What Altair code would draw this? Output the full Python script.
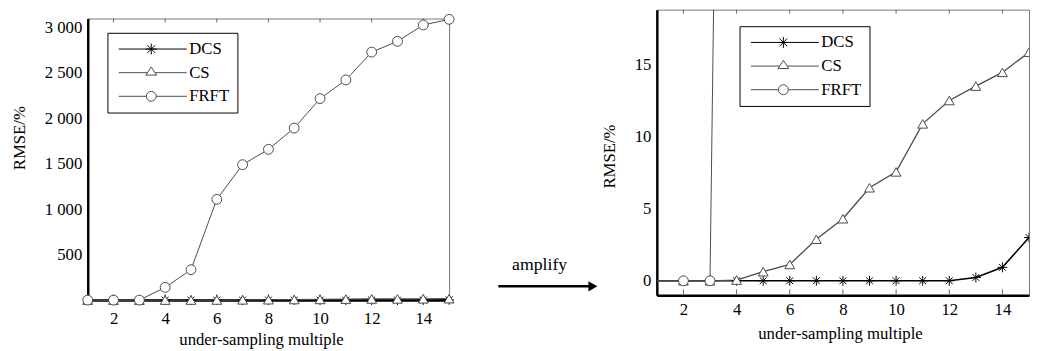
import altair as alt
import pandas as pd

# ---------------- data ----------------
x_vals = list(range(1, 16))
series_names = ["DCS", "CS", "FRFT"]
dcs_vals = [0, 0, 0, 0, 0, 0, 0, 0, 0, 0, 0, 0, 0.23, 0.93, 3.0]
cs_vals = [0, 0, 0, 0.05, 0.63, 1.13, 2.88, 4.3, 6.45, 7.55, 10.88, 12.5, 13.5, 14.45, 15.85]
frft_vals = [0, 0, 0, 140, 335, 1109, 1491, 1660, 1894, 2218, 2424, 2730, 2849, 3029, 3091]
x_ticks = [2, 4, 6, 8, 10, 12, 14]
left_y_ticks = [500, 1000, 1500, 2000, 2500, 3000]
right_y_ticks = [0, 5, 10, 15]
x_title = "under-sampling multiple"
y_title = "RMSE/%"
arrow_label = "amplify"

# ---------------- styles ----------------
FONT = "Liberation Serif"
series_colors = ["#000000", "#4a4a4a", "#4a4a4a"]
series_widths = [1.6, 1.0, 1.0]
ASTER = "M0,-1L0,1M-1,0L1,0M-0.7,-0.7L0.7,0.7M-0.7,0.7L0.7,-0.7"
marker_shapes = [ASTER, "triangle-up", "circle"]
legend_paths = [
    "M-1,0L12.8,0M5.6,-1.1L5.6,1.1M4.5,0L6.7,0M4.82,-0.78L6.38,0.78M4.82,0.78L6.38,-0.78",
    "M-1,0L4.83,0M6.37,0L12.8,0M5.6,-1.15L6.7,0.5L4.5,0.5Z",
    "M-1,0L4.6,0M6.6,0L12.8,0M6.6,0A1,1 0 1,1 4.6,0A1,1 0 1,1 6.6,0",
]

rows = []
for name, vals in zip(series_names, [dcs_vals, cs_vals, frft_vals]):
    for xv, yv in zip(x_vals, vals):
        rows.append({"x": xv, "value": yv, "series": name})
df = pd.DataFrame(rows)
xtick_df = pd.DataFrame({"x": x_ticks})


def panel(ydomain, yticks, width, height, clip, legx, legy, label_expr,
          xlabpad, xtitle_x, xtitle_y, ytitle_x, ytitle_y, min_marker_x):
    yaxis_kw = dict(
        values=yticks, title=y_title, grid=False, ticks=False, labelPadding=6,
        domainColor="black", domainWidth=2.5, labelFont=FONT, labelFontSize=17,
        labelColor="black", titleFont=FONT, titleFontSize=17, titleFontWeight="normal",
        titleColor="black", titleAngle=270, titleX=ytitle_x, titleY=ytitle_y,
        titleBaseline="middle", titleAlign="center", labelFlush=False, labelOverlap=False,
    )
    if label_expr:
        yaxis_kw["labelExpr"] = label_expr
    xenc = alt.X(
        "x:Q",
        scale=alt.Scale(domain=[1, 15], nice=False, zero=False),
        axis=alt.Axis(
            values=x_ticks, title=x_title, grid=False, ticks=False, labelPadding=xlabpad,
            domainColor="black", domainWidth=2.5, labelFont=FONT, labelFontSize=17,
            labelColor="black", titleFont=FONT, titleFontSize=17, titleFontWeight="normal",
            titleColor="black", titleX=xtitle_x, titleY=xtitle_y, titleBaseline="top",
            titleAlign="center", labelFlush=False, labelOverlap=False,
        ),
    )
    yenc = alt.Y(
        "value:Q",
        scale=alt.Scale(domain=ydomain, nice=False, zero=False),
        axis=alt.Axis(**yaxis_kw),
    )
    color_scale = alt.Scale(domain=series_names, range=series_colors)
    base = alt.Chart(df)
    # inward tick marks (top and bottom edges)
    top_ticks = alt.Chart(xtick_df).mark_rule(color="#666666", strokeWidth=1).encode(
        x=xenc, y=alt.value(0), y2=alt.value(4)
    )
    bottom_ticks = alt.Chart(xtick_df).mark_rule(color="#666666", strokeWidth=1).encode(
        x=xenc, y=alt.value(height - 1), y2=alt.value(height - 6)
    )
    lines = base.mark_line(clip=clip).encode(
        x=xenc, y=yenc,
        color=alt.Color("series:N", scale=color_scale, legend=None),
        strokeWidth=alt.StrokeWidth("series:N", scale=alt.Scale(domain=series_names, range=series_widths), legend=None),
        detail="series:N",
    )
    points = base.transform_filter(f"datum.x >= {min_marker_x}").mark_point(
        clip=clip, filled=False, size=100, strokeWidth=1, opacity=1
    ).encode(
        x=xenc, y=yenc,
        color=alt.Color("series:N", scale=color_scale, legend=None),
        shape=alt.Shape("series:N", scale=alt.Scale(domain=series_names, range=marker_shapes), legend=None),
        fill=alt.value("white"),
    )
    leg = alt.Legend(
        title=None, orient="none", legendX=legx, legendY=legy, symbolSize=100,
        symbolStrokeWidth=1, labelFont=FONT, labelFontSize=17, labelColor="black",
        labelOffset=58, padding=8, strokeColor="black", fillColor="white", rowPadding=6,
    )
    legend_layer = base.transform_filter("false").mark_point(filled=False, size=100, opacity=1).encode(
        x=xenc, y=yenc,
        color=alt.Color("series:N", scale=color_scale, legend=leg),
        shape=alt.Shape("series:N", scale=alt.Scale(domain=series_names, range=legend_paths), legend=leg),
    )
    return alt.layer(top_ticks, bottom_ticks, lines, points, legend_layer).resolve_scale(
        shape="independent", color="independent", strokeWidth="independent"
    ).properties(width=width, height=height, view=alt.ViewBackground(stroke="#777777", strokeWidth=1))


left = panel([0, 3100], left_y_ticks, 367, 286, False, 20, 14.5,
             "replace(format(datum.value, ','), ',', ' ')", 11, 176, 32.5, -69, 121, 1)
right = panel([-1, 18.8], right_y_ticks, 378, 290, True, 84, 16.8,
              None, 7, 186, 30.5, -48, 148.7, 2)

mid_df = pd.DataFrame({"label": [arrow_label]})

# tiny invisible spacer that lowers the left panel a little
spacer = alt.Chart(mid_df).mark_rect(opacity=0).encode(
    x=alt.value(0), x2=alt.value(1), y=alt.value(0), y2=alt.value(1)
).properties(width=1, height=1, view=alt.ViewBackground(stroke="transparent"))
left_col = alt.vconcat(spacer, left, spacing=0)

mid_base = alt.Chart(mid_df)
arrow_line = mid_base.mark_rule(color="black", strokeWidth=2.5).encode(
    x=alt.value(41), x2=alt.value(134), y=alt.value(281)
)
arrow_head = mid_base.mark_point(shape="triangle-right", filled=True, size=110, color="black", opacity=1).encode(
    x=alt.value(137), y=alt.value(281)
)
arrow_text = mid_base.mark_text(font=FONT, fontSize=18, color="black", align="center", baseline="middle").encode(
    text="label:N", x=alt.value(83), y=alt.value(259.4)
)
mid = alt.layer(arrow_line, arrow_head, arrow_text).properties(
    width=143, height=290, view=alt.ViewBackground(stroke="transparent")
)

chart = alt.hconcat(left_col, mid, right, spacing=0).properties(
    padding={"left": 2, "top": -2, "right": 0, "bottom": 0}
).configure(background="white")

chart.save("out.html", embed_options={"renderer": "svg", "actions": False})
